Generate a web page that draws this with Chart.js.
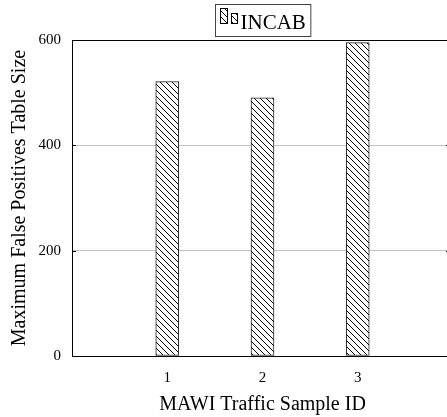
<!DOCTYPE html>
<html>
<head>
<meta charset="utf-8">
<script src="https://cdn.jsdelivr.net/npm/chart.js@4/dist/chart.umd.min.js"></script>
<style>
	html, body { margin: 0; padding: 0; background: #fff; overflow: hidden; }
	#wrap { width: 455px; height: 417px; }
</style>
</head>
<body>
<div id="wrap"><canvas id="chart-incab"></canvas></div>
<script>
const SAMPLE_IDS = [1, 2, 3];
const INCAB_VALUES = [521, 490, 595];
const X_TICKS = [1, 2, 3];
const Y_TICKS = [0, 200, 400, 600];
const SERIES_LABEL = "INCAB";

const FONT = "'Liberation Serif', 'DejaVu Serif', serif";

// hatch fill, lines running top-left to bottom-right
const hatch = (() => {
	const s = 6;
	const c = document.createElement("canvas");
	c.width = s;
	c.height = s;
	const ctx = c.getContext("2d");
	ctx.fillStyle = "#fff";
	ctx.fillRect(0, 0, s, s);
	ctx.strokeStyle = "#000";
	ctx.lineWidth = 1;
	ctx.beginPath();
	ctx.moveTo(0, 0); ctx.lineTo(s, s);
	ctx.moveTo(-1, s - 1); ctx.lineTo(1, s + 1);
	ctx.moveTo(s - 1, -1); ctx.lineTo(s + 1, 1);
	ctx.stroke();
	return ctx.createPattern(c, "repeat");
})();

// boxed legend above the plot + inner ticks on the y axis
const framePlugin = {
	id: "frame",
	afterDraw(chart) {
		const { ctx, chartArea: a, scales } = chart;
		ctx.save();
		ctx.strokeStyle = "#000";
		ctx.lineWidth = 1;
		Y_TICKS.slice(1, -1).forEach((v) => {
			const y = Math.round(scales.y.getPixelForValue(v)) + 0.5;
			ctx.beginPath();
			ctx.moveTo(a.left, y); ctx.lineTo(a.left + 4, y);
			ctx.moveTo(a.right - 7, y); ctx.lineTo(a.right, y);
			ctx.stroke();
		});

		ctx.font = "21px " + FONT;
		const tw = ctx.measureText(SERIES_LABEL).width;
		const w = 25 + tw + 5;
		const cx = (a.left + a.right) / 2;
		const x0 = Math.round(cx - w / 2) + 0.5;
		const y0 = 4.5;
		const h = 32;
		ctx.strokeStyle = "#444";
		ctx.strokeRect(x0, y0, w, h);

		ctx.fillStyle = hatch;
		ctx.strokeStyle = "#000";
		ctx.fillRect(x0 + 5, y0 + 4, 7, 15);
		ctx.strokeRect(x0 + 5, y0 + 4, 7, 15);
		ctx.fillRect(x0 + 16, y0 + 9, 6, 10);
		ctx.strokeRect(x0 + 16, y0 + 9, 6, 10);

		ctx.fillStyle = "#000";
		ctx.textBaseline = "alphabetic";
		ctx.fillText(SERIES_LABEL, x0 + 25, y0 + 24);
		ctx.restore();
	},
};

const DATA = {
	datasets: [
		{
			label: SERIES_LABEL,
			data: SAMPLE_IDS.map((id, i) => ({ x: id, y: INCAB_VALUES[i] })),
			backgroundColor: hatch,
			borderColor: "#222",
			borderWidth: 1,
			borderSkipped: false,
			barThickness: 23,
		},
	],
};

const CONFIG = {
	type: "bar",
	data: DATA,
	options: {
		responsive: true,
		maintainAspectRatio: false,
		animation: false,
		events: [],
		layout: { padding: { top: 40, right: 2, left: 0, bottom: 0 } },
		plugins: {
			legend: { display: false },
			tooltip: { enabled: false },
		},
		scales: {
			x: {
				type: "linear",
				min: 0,
				max: 4,
				offset: false,
				afterBuildTicks: (s) => { s.ticks = X_TICKS.map((v) => ({ value: v })); },
				afterFit: (s) => { s.height = 61; },
				grid: { display: false, drawTicks: false },
				border: { display: true, color: "#000", width: 1 },
				ticks: {
					color: "#000",
					padding: 13,
					font: { family: FONT, size: 15 },
				},
				title: {
					display: true,
					text: "MAWI Traffic Sample ID",
					color: "#000",
					padding: { top: 0, bottom: 0 },
					font: { family: FONT, size: 20 },
				},
			},
			y: {
				min: 0,
				max: 600,
				afterBuildTicks: (s) => { s.ticks = Y_TICKS.map((v) => ({ value: v })); },
				afterFit: (s) => { s.width = 72; },
				grid: {
					drawTicks: false,
					color: (c) => (c.tick.value === 600 ? "#000" : c.tick.value === 0 ? "rgba(0,0,0,0)" : "#c4c4c4"),
				},
				border: { display: true, color: "#000", width: 1 },
				ticks: {
					color: "#000",
					padding: 11,
					font: { family: FONT, size: 15 },
				},
				title: {
					display: true,
					text: "Maximum False Positives Table Size",
					color: "#000",
					padding: { top: 8, bottom: 0 },
					font: { family: FONT, size: 20 },
				},
			},
		},
	},
	plugins: [framePlugin],
};

new Chart(document.getElementById("chart-incab"), CONFIG);
</script>
</body>
</html>
